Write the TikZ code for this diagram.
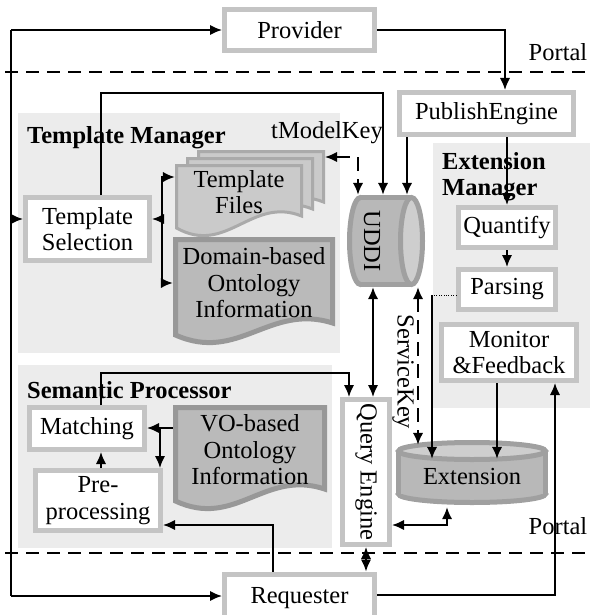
\documentclass[tikz,border=0pt]{standalone}
\usepackage{fontspec}
\setmainfont{Liberation Serif}
\usepackage{graphicx}
\usetikzlibrary{arrows.meta,positioning}
\definecolor{boxgray}{RGB}{196,196,196}
\definecolor{regionbg}{RGB}{236,236,236}
\definecolor{docfill}{RGB}{186,186,186}
\definecolor{docdraw}{RGB}{152,152,152}
\definecolor{tffill}{RGB}{202,202,202}
\definecolor{tfdraw}{RGB}{170,170,170}
\definecolor{cylfill}{RGB}{184,184,184}
\definecolor{cyltop}{RGB}{206,206,206}
\definecolor{cyldraw}{RGB}{160,160,160}
\newcommand{\diagfont}{\fontsize{24.5}{26.5}\selectfont}
\tikzstyle{box} = [draw=boxgray, line width=5pt, fill=white, inner sep=0pt, align=center]
\tikzstyle{arrow} = [>={Latex[length=12pt,width=10.5pt]}, ->, line width=2pt, draw=black]
\tikzstyle{both} = [arrow, <->]
\tikzstyle{keyarrow} = [both, dash pattern=on 14pt off 8pt]
\tikzstyle{portal} = [line width=2pt, dash pattern=on 13pt off 8pt]
\tikzstyle{region} = [fill=regionbg]
\tikzstyle{doc} = [fill=docfill, draw=docdraw, line width=5pt]
\tikzstyle{tfdoc} = [fill=tffill, draw=tfdraw, line width=3pt]
\tikzstyle{cyl} = [fill=cylfill, draw=cyldraw, line width=5pt]
\tikzstyle{cylside} = [draw=cyldraw, line width=5pt]
\tikzstyle{title} = [font=\diagfont\bfseries, inner sep=0pt, anchor=west]
\tikzstyle{txt} = [inner sep=0pt, align=center]
% page with a wavy lower edge
\newcommand{\docpage}[5]{%
  \path[#5] (#1,#2) -- (#3,#2) -- (#3,#4-12)
    .. controls ({#1+0.6*(#3-#1)},#4-32) and ({#1+0.4*(#3-#1)},#4+28) .. (#1,#4) -- cycle;}

\begin{document}
\begin{tikzpicture}[x=1pt, y=-1pt, font=\diagfont]
            \useasboundingbox (0,0) rectangle (592,615);

            \fill[region] (18,113) rectangle (340,353);
            \fill[region] (433,143) rectangle (590,408);
            \fill[region] (18,365) rectangle (332,548);

            \draw[portal] (5,72) -- (592,72);
            \draw[portal] (5,553) -- (592,553);

            \docpage{198.5}{151.5}{323.5}{214}{tfdoc}
            \docpage{187.5}{158.5}{312.5}{221}{tfdoc}
            \docpage{176.5}{165.5}{301.5}{228}{tfdoc}
            \docpage{175.5}{239.5}{332.5}{335}{doc}
            \docpage{175.5}{407.5}{324.5}{501}{doc}

            \draw[cyl] (360.5,241) ellipse (11 and 43.5);
            \fill[cylfill] (360.5,197.5) rectangle (411.5,284.5);
            \draw[cylside] (360.5,197.5) -- (411.5,197.5) (360.5,284.5) -- (411.5,284.5);
            \draw[cyl, fill=cyltop] (411.5,241) ellipse (11 and 43.5);

            \draw[cyl] (472,494) ellipse (73.5 and 8.5);
            \fill[cylfill] (398.5,451) rectangle (545.5,494);
            \draw[cylside] (398.5,451) -- (398.5,494) (545.5,451) -- (545.5,494);
            \draw[cyl, fill=cyltop] (472,451) ellipse (73.5 and 8.5);

            \node (Prov) [box, minimum width=150pt, minimum height=41pt] at (299.5,30) {Provider};
            \node (PE) [box, minimum width=174pt, minimum height=42pt] at (486.5,113.5) {PublishEngine};
            \node (TS) [box, minimum width=124pt, minimum height=63pt] at (87.5,229) {Template\\Selection};
            \node (Quant) [box, minimum width=97pt, minimum height=40pt] at (507,227.5) {Quantify};
            \node (Pars) [box, minimum width=97pt, minimum height=40pt] [below=17pt of Quant] {Parsing};
            \node (MF) [box, minimum width=135pt, minimum height=56pt] at (509,352.5) {Monitor\\\&Feedback};
            \node (Match) [box, minimum width=115pt, minimum height=42pt] at (87,428.5) {Matching};
            \node (Pre) [box, minimum width=125pt, minimum height=60pt] at (98,500.5) {Pre-\\processing};
            \node (QE) [box, minimum width=47pt, minimum height=145pt] at (366,472) {\rotatebox{-90}{Query Engine}};
            \node (Req) [box, minimum width=150pt, minimum height=48pt] at (299.5,598) {Requester};

            \node (TF) [txt, minimum width=128pt] at (239,192) {Template\\Files};
            \node (DO) [txt, minimum width=162pt] at (254,283) {Domain-based\\Ontology\\Information};
            \node (VO) [txt, minimum width=154pt] at (250,450) {VO-based\\Ontology\\Information};
            \node (UDDI) [txt, minimum height=92pt] at (372,241) {\rotatebox{-90}{UDDI}};
            \node (Ext) [txt, minimum width=152pt, minimum height=64pt] at (472,477) {Extension};

            \node (TMK) at (327,133) {tModelKey};
            \node (SK) at (403,372) {\rotatebox{-90}{ServiceKey}};
            \node (Portal1) at (558,52) {Portal};
            \node (Portal2) at (558,526) {Portal};
            \node (TMt) [title] at (27,138) {Template Manager};
            \node (SPt) [title] at (27,390) {Semantic Processor};
            \node (EMt) [title, anchor=north west, align=left] at (442,152) {Extension\\Manager};

            \coordinate (BusT) at (11,30);
            \coordinate (BusTS) at (11,219);
            \coordinate (BusB) at (11,596);
            \draw[line width=2pt] (BusT) -- (BusB);
            \draw[arrow] (BusT) -- (Prov.west);
            \draw[arrow] (BusTS) -- ([yshift=10pt]TS.west);
            \draw[arrow] (BusB) -- ([yshift=2pt]Req.west);

            \draw[arrow] (Prov.east) -| ([xshift=18.5pt]PE.north);
            \coordinate (TSbend) at (383,93);
            \draw[arrow] ([xshift=13.5pt]TS.north) |- (TSbend) -- ([xshift=11pt]UDDI.north);
            \draw[arrow] ([xshift=35pt]UDDI.north |- PE.south) -- ([xshift=35pt]UDDI.north);
            \draw[arrow] (Quant.north |- PE.south) -- (Quant.north);
            \draw[arrow] (Quant) -- (Pars);

            \coordinate (TFback) at (325,157);
            \draw[keyarrow] (TFback) -| ([xshift=-14pt]UDDI.north);

            \coordinate (TSfork) at (162,219);
            \draw[arrow] (TSfork) -- ([yshift=10pt]TS.east);
            \draw[arrow] (TSfork) |- ([yshift=15pt]TF.west);
            \draw[arrow] (TSfork) |- (DO.west);

            \draw[both] ([xshift=7pt]QE.north) -- ([xshift=7pt]QE.north |- UDDI.south);
            \draw[keyarrow] ([xshift=46pt]UDDI.south) -- ([xshift=46pt]UDDI.south |- Ext.north);

            \coordinate (SPline) at (0,373);
            \draw[arrow] ([xshift=14pt]Match.north) |- ([xshift=-17pt]QE.north |- SPline) -- ([xshift=-17pt]QE.north);

            \coordinate (VOfork) at (160,428);
            \draw[arrow] ([yshift=22pt]VO.west) -- ([yshift=22pt]VO.west -| Match.east);
            \draw[arrow] (VOfork) -- (VOfork |- Pre.north);
            \draw[arrow] ([xshift=3pt]Pre.north) -- ([xshift=3pt]Pre.north |- Match.south);

            \draw[arrow] ([xshift=-27pt]Req.north) |- ([yshift=-24.5pt]Pre.east);
            \draw[both] (QE.south) -- (QE.south |- Req.north);
            \draw[both] ([yshift=-53pt]QE.east) -| ([xshift=-25pt, yshift=2pt]Ext.south);

            \coordinate (ParsX) at (432,295);
            \draw[thin, dotted] ([yshift=-5.5pt]Pars.west) -- (ParsX);
            \draw[arrow] (ParsX) -- ([yshift=-14pt]ParsX |- Ext.north);
            \draw[arrow] ([xshift=-12pt]MF.south) -- ([xshift=-12pt, yshift=-14pt]MF.south |- Ext.north);
            \draw[arrow] ([yshift=3pt]Req.east) -| ([xshift=46pt]MF.south);
\end{tikzpicture}
\end{document}
